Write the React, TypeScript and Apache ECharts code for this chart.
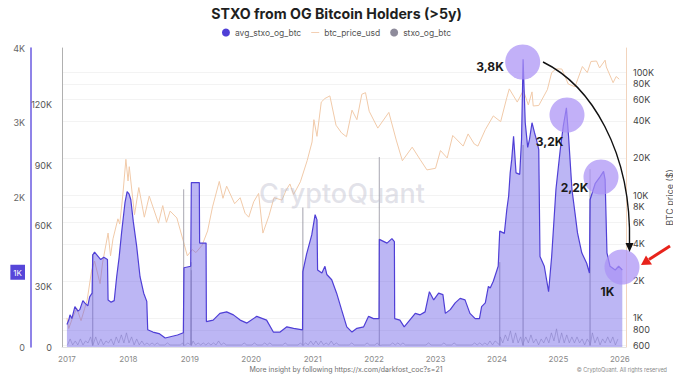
import React, { useEffect, useRef } from 'react';
import * as echarts from 'echarts';

// ---------- data ----------
const yearTicks = [2017, 2018, 2019, 2020, 2021, 2022, 2023, 2024, 2025, 2026];
const priceTicks = [600, 800, 1000, 2000, 4000, 6000, 8000, 10000, 20000, 40000, 60000, 80000, 100000];

// avg_stxo_og_btc  [decimal year, BTC]
const avgStxo: [number, number][] = [
  [2017.0, 300], [2017.03, 360], [2017.05, 430], [2017.08, 380], [2017.13, 540], [2017.18, 480], [2017.21, 500],
  [2017.26, 620], [2017.29, 590], [2017.34, 550], [2017.37, 670], [2017.41, 720], [2017.42, 1230], [2017.45, 1270],
  [2017.5, 1220], [2017.55, 1170], [2017.6, 1200], [2017.66, 1170], [2017.67, 630], [2017.72, 600], [2017.77, 620],
  [2017.81, 940], [2017.85, 1200], [2017.89, 1530], [2017.945, 1930], [2017.98, 2080], [2018.01, 2050], [2018.04, 1970],
  [2018.08, 1680], [2018.135, 1350], [2018.19, 940], [2018.25, 720], [2018.3, 610], [2018.315, 230], [2018.4, 200],
  [2018.5, 180], [2018.6, 120], [2018.7, 140], [2018.8, 160], [2018.895, 190], [2018.905, 1060], [2019.015, 1080],
  [2019.025, 2200], [2019.155, 2200], [2019.16, 1390], [2019.265, 1390], [2019.27, 340], [2019.38, 360], [2019.49, 450],
  [2019.6, 470], [2019.71, 430], [2019.82, 360], [2019.93, 320], [2020.09, 410], [2020.25, 360], [2020.36, 200],
  [2020.47, 200], [2020.58, 270], [2020.69, 250], [2020.835, 230], [2020.84, 1010], [2020.9, 1240], [2020.985, 1500],
  [2021.04, 1770], [2021.07, 1700], [2021.08, 1030], [2021.15, 990], [2021.2, 1080], [2021.23, 970], [2021.31, 900],
  [2021.39, 720], [2021.47, 500], [2021.555, 270], [2021.64, 200], [2021.72, 250], [2021.83, 270], [2021.91, 410],
  [2021.99, 380], [2022.08, 380], [2022.085, 1440], [2022.21, 1390], [2022.29, 1450], [2022.33, 1410], [2022.335, 380],
  [2022.42, 360], [2022.49, 270], [2022.56, 340], [2022.67, 450], [2022.75, 430], [2022.83, 470], [2022.9, 740],
  [2022.97, 630], [2023.05, 720], [2023.12, 700], [2023.16, 450], [2023.24, 500], [2023.32, 590], [2023.4, 650],
  [2023.48, 630], [2023.56, 450], [2023.645, 380], [2023.715, 380], [2023.75, 540], [2023.81, 590], [2023.86, 810],
  [2023.89, 790], [2023.94, 880], [2024.0, 1030], [2024.02, 1080], [2024.045, 1550], [2024.12, 1520], [2024.16, 1840],
  [2024.19, 2020], [2024.215, 2330], [2024.24, 2510], [2024.27, 2820], [2024.28, 2820], [2024.31, 2330], [2024.37, 2310],
  [2024.4, 2780], [2024.425, 3850], [2024.46, 3000], [2024.5, 2670], [2024.53, 2780], [2024.57, 3000], [2024.61, 2870],
  [2024.64, 2780], [2024.68, 2640], [2024.7, 1210], [2024.77, 1080], [2024.84, 740], [2024.89, 1210], [2024.96, 2110],
  [2025.03, 2640], [2025.08, 2960], [2025.13, 3200], [2025.165, 2820], [2025.22, 2110], [2025.27, 1790], [2025.31, 1530],
  [2025.38, 1260], [2025.46, 1120], [2025.505, 990], [2025.515, 1970], [2025.6, 2190], [2025.68, 2280], [2025.735, 2350],
  [2025.76, 2240], [2025.79, 1260], [2025.84, 1080], [2025.925, 1030], [2025.98, 1080], [2026.04, 1030],
];

// btc_price_usd  [decimal year, USD]
const btcPrice: [number, number][] = [
  [2017.0, 1000], [2017.03, 820], [2017.085, 980], [2017.16, 1200], [2017.23, 950], [2017.29, 1200], [2017.33, 1400],
  [2017.4, 2400], [2017.45, 2900], [2017.54, 1900], [2017.58, 2800], [2017.67, 4900], [2017.71, 3200], [2017.75, 4400],
  [2017.83, 6400], [2017.86, 5800], [2017.91, 10000], [2017.96, 19500], [2017.995, 13000], [2018.015, 17000],
  [2018.1, 6900], [2018.17, 11500], [2018.26, 6600], [2018.34, 9800], [2018.49, 5900], [2018.56, 8200], [2018.62, 6000],
  [2018.68, 7400], [2018.79, 6500], [2018.89, 4300], [2018.96, 3200], [2019.04, 3600], [2019.1, 3400], [2019.2, 3900],
  [2019.29, 5100], [2019.37, 8000], [2019.48, 12900], [2019.54, 9400], [2019.6, 11800], [2019.73, 8500], [2019.82, 9500],
  [2019.9, 7100], [2019.96, 6600], [2020.04, 8800], [2020.12, 10300], [2020.19, 4900], [2020.29, 6800], [2020.37, 9500],
  [2020.5, 9100], [2020.57, 11000], [2020.63, 12300], [2020.69, 10100], [2020.8, 12800], [2020.91, 19000],
  [2020.99, 27000], [2021.02, 41000], [2021.07, 30000], [2021.14, 57000], [2021.2, 61000], [2021.28, 64000],
  [2021.38, 37000], [2021.47, 32000], [2021.55, 29800], [2021.64, 49000], [2021.72, 41000], [2021.8, 66000],
  [2021.86, 68000], [2021.92, 48000], [2022.06, 35000], [2022.24, 47000], [2022.36, 28000], [2022.46, 19000],
  [2022.62, 24500], [2022.75, 19400], [2022.86, 16000], [2023.0, 16500], [2023.08, 23000], [2023.19, 20000],
  [2023.28, 30500], [2023.45, 25000], [2023.53, 31400], [2023.63, 26000], [2023.69, 25000], [2023.81, 34000],
  [2023.94, 44000], [2024.06, 39500], [2024.16, 62000], [2024.2, 73000], [2024.33, 57000], [2024.43, 71000],
  [2024.51, 54000], [2024.57, 69000], [2024.59, 53000], [2024.68, 53500], [2024.82, 72000], [2024.89, 99000],
  [2024.96, 106000], [2025.055, 106000], [2025.16, 80000], [2025.27, 76000], [2025.39, 111000], [2025.47, 99000],
  [2025.53, 122000], [2025.62, 123000], [2025.67, 108000], [2025.76, 125000], [2025.78, 110000], [2025.89, 82000],
  [2025.94, 92000], [2025.99, 87500],
];

// stxo_og_btc daily background level, thousands of BTC, two readings per month (5th / 20th)
const noiseStartYear = 2017;
const stxoNoiseK: number[][] = [
  [1, 4, 1, 3, 1, 4, 1, 3, 2, 5, 1, 5, 1, 4, 1, 3, 2, 4, 1, 5, 2, 6, 2, 7],
  [2, 5, 1, 4, 1, 3, 1, 2, 1, 2, 1, 2, 1, 1, 1, 2, 1, 1, 1, 1, 1, 2, 1, 2],
  [1, 3, 1, 2, 1, 2, 1, 2, 1, 2, 1, 3, 1, 2, 1, 1, 1, 1, 1, 1, 1, 2, 1, 1],
  [1, 2, 1, 1, 1, 2, 1, 2, 1, 1, 1, 1, 1, 2, 1, 1, 1, 1, 1, 2, 1, 2, 1, 3],
  [1, 3, 1, 3, 1, 2, 1, 3, 1, 2, 1, 1, 1, 1, 1, 2, 1, 1, 1, 1, 1, 2, 1, 1],
  [1, 2, 1, 1, 1, 1, 1, 2, 1, 2, 1, 2, 1, 1, 1, 1, 1, 1, 1, 1, 1, 2, 1, 1],
  [1, 1, 1, 2, 1, 1, 1, 2, 1, 1, 1, 1, 1, 1, 1, 2, 1, 2, 1, 2, 1, 3, 1, 3],
  [2, 5, 2, 6, 3, 8, 2, 7, 2, 5, 2, 5, 2, 6, 2, 4, 1, 4, 2, 5, 2, 7, 3, 9],
  [2, 7, 2, 6, 2, 5, 2, 5, 2, 4, 1, 4, 2, 7, 2, 5, 1, 4, 2, 5, 2, 5, 1, 4],
];
// large single-day spikes [decimal year, BTC]
const stxoSpikes: [number, number][] = [
  [2017.42, 46000], [2018.9, 78000], [2019.02, 42000], [2019.026, 38000], [2020.84, 69000],
  [2022.085, 94000], [2024.045, 42000], [2024.425, 100000], [2025.515, 88000],
];

// ---------- helpers ----------
const kFmt = (v: number) => (v === 0 ? '0' : v >= 1000 ? `${Math.round(v / 100) / 10}K` : `${Math.round(v)}`);
const FONT = 'Inter, "Noto Sans", sans-serif';

function buildGray(): [number, number][] {
  const out: [number, number][] = [];
  stxoNoiseK.forEach((row, yi) => {
    row.forEach((v, k) => {
      const m = Math.floor(k / 2);
      const off = k % 2 === 0 ? 0.13 : 0.63;
      out.push([noiseStartYear + yi + (m + off) / 12, v * 1000]);
    });
  });
  stxoSpikes.forEach(([t, v]) => {
    out.push([t - 0.002, 800], [t, v], [t + 0.002, 800]);
  });
  out.sort((a, b) => a[0] - b[0]);
  return out;
}

export default function App() {
  const ref = useRef<HTMLDivElement>(null);
  useEffect(() => {
    if (!ref.current) return;
    const chart = echarts.init(ref.current, undefined, { renderer: 'svg' });
    const logMin = Math.log10(580);
    const logMax = Math.log10(157000);
    const option: any = {
      animation: false,
      backgroundColor: '#fff',
      title: {
        text: 'STXO from OG Bitcoin Holders (>5y)',
        left: 'center',
        top: 1,
        textStyle: { fontSize: 14.2, fontWeight: 'bold', color: '#1f1f1f', fontFamily: FONT },
      },
      legend: {
        top: 23,
        left: 'center',
        itemWidth: 8,
        itemHeight: 8,
        itemGap: 10,
        textStyle: { fontSize: 8.5, color: '#555', fontFamily: FONT },
        data: [
          { name: 'avg_stxo_og_btc', icon: 'circle' },
          { name: 'btc_price_usd', icon: 'path://M0,0 L14,0 L14,1.4 L0,1.4 Z' },
          { name: 'stxo_og_btc', icon: 'circle' },
        ],
      },
      grid: { left: 62, right: 47, top: 48, bottom: 32, containLabel: false, outerBoundsMode: 'none' },
      xAxis: {
        type: 'value',
        min: 2016.92,
        max: 2026.1,
        axisLine: { show: true, lineStyle: { color: '#e3e3e3' } },
        axisTick: { show: false },
        splitLine: { show: false },
        axisLabel: {
          customValues: yearTicks,
          formatter: (v: number) => String(Math.round(v)),
          color: '#8a8a8a',
          fontSize: 8,
          margin: 8,
          fontFamily: FONT,
        },
      },
      yAxis: [
        {
          type: 'value',
          position: 'left',
          offset: 31,
          min: 0,
          max: 4000,
          interval: 1000,
          name: 'stxo BTC value',
          nameLocation: 'middle',
          nameGap: 24,
          nameTextStyle: { fontSize: 9, color: '#444', fontFamily: FONT },
          axisLine: { show: true, lineStyle: { color: '#6a5ae0', width: 1.5 } },
          axisTick: { show: false },
          splitLine: { show: false },
          axisLabel: {
            margin: 6,
            fontSize: 9,
            color: '#666',
            fontFamily: FONT,
            formatter: (v: number) => (v === 1000 ? '{hl|1K}' : kFmt(v)),
            rich: {
              hl: { backgroundColor: '#5646d9', color: '#fff', padding: [4, 3, 3, 3], fontSize: 8, fontFamily: FONT },
            },
          },
        },
        {
          type: 'value',
          position: 'left',
          offset: 0,
          min: 0,
          max: 148000,
          interval: 30000,
          axisLine: { show: true, lineStyle: { color: '#b0b0b0', width: 1 } },
          axisTick: { show: false },
          splitLine: { show: false },
          axisLabel: {
            margin: 10,
            fontSize: 9,
            color: '#555',
            fontFamily: FONT,
            formatter: (v: number) => (v % 30000 === 0 ? kFmt(v) : ''),
          },
        },
        {
          type: 'value',
          position: 'right',
          min: logMin,
          max: logMax,
          name: 'BTC price ($)',
          nameLocation: 'middle',
          nameGap: 29,
          nameTextStyle: { fontSize: 9, color: '#555', fontFamily: FONT },
          axisLine: { show: true, lineStyle: { color: '#f2d4bd', width: 1 } },
          axisTick: { show: false, customValues: priceTicks.map((p) => Math.log10(p)) },
          splitLine: { show: true, lineStyle: { color: '#f3f3f3', width: 1 } },
          axisLabel: {
            customValues: priceTicks.map((p) => Math.log10(p)),
            margin: 7,
            fontSize: 9,
            color: '#444',
            fontFamily: FONT,
            formatter: (v: number) => kFmt(Math.round(Math.pow(10, v))),
          },
        },
      ],
      series: [
        {
          name: 'btc_price_usd',
          type: 'line',
          yAxisIndex: 2,
          showSymbol: false,
          z: 1,
          color: '#f0c3a0',
          lineStyle: { color: '#f1caa9', width: 1 },
          data: btcPrice.map(([t, p]) => [t, Math.log10(p)]),
        },
        {
          name: 'stxo_og_btc',
          type: 'line',
          yAxisIndex: 1,
          showSymbol: false,
          z: 2,
          color: '#8e8b9b',
          lineStyle: { color: '#a3a1ad', width: 0.6 },
          data: buildGray(),
        },
        {
          name: 'avg_stxo_og_btc',
          type: 'line',
          yAxisIndex: 0,
          showSymbol: false,
          z: 3,
          color: '#4f3fd6',
          lineStyle: { color: '#4f3fd6', width: 1.2 },
          areaStyle: { color: 'rgba(106, 92, 230, 0.64)' },
          data: avgStxo,
        },
      ],
      graphic: [
        {
          type: 'text', x: 342, y: 193, z: 50, silent: true,
          style: { text: 'CryptoQuant', fill: 'rgba(190,190,205,0.45)', font: `500 27px ${FONT}`, align: 'center', verticalAlign: 'middle', textAlign: 'center', textVerticalAlign: 'middle' },
        },
        { type: 'circle', z: 60, shape: { cx: 522.7, cy: 62, r: 17.5 }, style: { fill: 'rgba(170,145,245,0.72)' } },
        { type: 'circle', z: 60, shape: { cx: 567, cy: 115, r: 17.5 }, style: { fill: 'rgba(170,145,245,0.72)' } },
        { type: 'circle', z: 60, shape: { cx: 601, cy: 177, r: 17.5 }, style: { fill: 'rgba(170,145,245,0.72)' } },
        { type: 'circle', z: 60, shape: { cx: 622, cy: 267, r: 17.5 }, style: { fill: 'rgba(170,145,245,0.72)' } },
        { type: 'text', z: 61, x: 490, y: 66, style: { text: '3,8K', fill: '#1a1a1a', font: `bold 12px ${FONT}`, align: 'center', verticalAlign: 'middle', textAlign: 'center', textVerticalAlign: 'middle' } },
        { type: 'text', z: 61, x: 549.5, y: 141, style: { text: '3,2K', fill: '#1a1a1a', font: `bold 12px ${FONT}`, align: 'center', verticalAlign: 'middle', textAlign: 'center', textVerticalAlign: 'middle' } },
        { type: 'text', z: 61, x: 574.5, y: 187, style: { text: '2,2K', fill: '#1a1a1a', font: `bold 12px ${FONT}`, align: 'center', verticalAlign: 'middle', textAlign: 'center', textVerticalAlign: 'middle' } },
        { type: 'text', z: 61, x: 607.5, y: 291, style: { text: '1K', fill: '#1a1a1a', font: `bold 12px ${FONT}`, align: 'center', verticalAlign: 'middle', textAlign: 'center', textVerticalAlign: 'middle' } },
        {
          type: 'bezierCurve', z: 62,
          shape: { x1: 543, y1: 62, cpx1: 590, cpy1: 85, cpx2: 632, cpy2: 150, x2: 629.5, y2: 245 },
          style: { stroke: '#111', lineWidth: 1.4, fill: null },
        },
        { type: 'polygon', z: 62, shape: { points: [[625.5, 243], [633.5, 243], [629.5, 252]] }, style: { fill: '#111' } },
        { type: 'line', z: 62, shape: { x1: 670, y1: 246, x2: 649, y2: 259.5 }, style: { stroke: '#e8231b', lineWidth: 3 } },
        { type: 'polygon', z: 62, shape: { points: [[641, 265], [646, 255.5], [652, 264.5]] }, style: { fill: '#e8231b' } },
        {
          type: 'text', z: 61, x: 346, y: 369,
          style: { text: 'More insight by following https://x.com/darkfost_coc?s=21', fill: '#6f6f6f', font: `7px ${FONT}`, align: 'center', verticalAlign: 'middle', textAlign: 'center', textVerticalAlign: 'middle' },
        },
        {
          type: 'text', z: 61, x: 667, y: 370,
          style: { text: '© CryptoQuant. All rights reserved', fill: '#8a8a8a', font: `5.5px ${FONT}`, align: 'right', verticalAlign: 'middle', textAlign: 'right', textVerticalAlign: 'middle' },
        },
      ],
    };
    chart.setOption(option);
    return () => chart.dispose();
  }, []);
  return <div ref={ref} style={{ position: 'fixed', left: 0, top: 0, width: 673, height: 379 }} />;
}
